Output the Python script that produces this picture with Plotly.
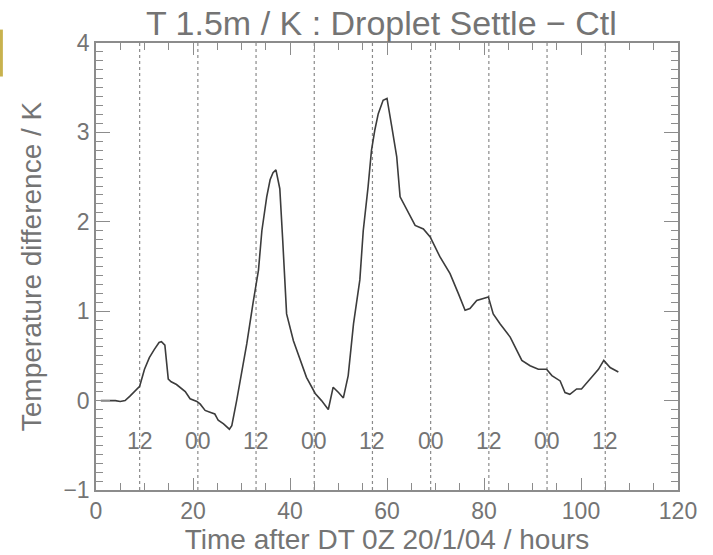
import plotly.graph_objects as go

# ---- data ----
hours = [1, 2, 3, 4, 5, 6, 7, 8, 9, 10, 11, 12, 13, 13.5, 14.2, 14.9, 15.5, 16.6, 17.5, 18.4,
         19.4, 20.8, 21.5, 22.5, 23.5, 24.5, 25.2, 26.3, 27.5, 28.0, 29.0, 30.0, 31.1, 32.4,
         33.5, 34.2, 35.2, 35.9, 36.5, 37.1, 37.9, 38.5, 39.0, 39.3, 40.7, 42.1, 43.4, 45.2,
         46.5, 47.9, 48.9, 50.0, 51.0, 52.0, 53.1, 54.4, 55.1, 56.1, 56.8, 57.5, 58.2, 59.2,
         60.0, 61.0, 62.0, 62.7, 64.1, 65.8, 67.5, 68.9, 70.9, 73.0, 74.7, 76.1, 77.1, 78.5,
         80.9, 81.9, 83.3, 85.4, 87.8, 89.5, 91.2, 92.9, 94.0, 95.7, 96.7, 97.7, 99.1, 100.1,
         102.5, 103.6, 104.7, 106.0, 107.7]
temp_diff = [0.0, 0.0, 0.0, 0.0, -0.01, 0.0, 0.05, 0.10, 0.16, 0.35, 0.48, 0.57, 0.65, 0.66,
             0.62, 0.24, 0.21, 0.18, 0.14, 0.10, 0.02, -0.01, -0.04, -0.11, -0.13, -0.15,
             -0.22, -0.26, -0.32, -0.28, 0.0, 0.30, 0.64, 1.10, 1.46, 1.90, 2.28, 2.47, 2.55,
             2.58, 2.37, 1.79, 1.30, 0.97, 0.67, 0.45, 0.26, 0.08, 0.0, -0.10, 0.15, 0.09,
             0.03, 0.28, 0.86, 1.35, 1.90, 2.39, 2.80, 3.03, 3.21, 3.36, 3.38, 3.06, 2.73,
             2.28, 2.13, 1.96, 1.92, 1.83, 1.61, 1.42, 1.20, 1.01, 1.03, 1.12, 1.16, 0.97,
             0.86, 0.71, 0.45, 0.39, 0.35, 0.35, 0.28, 0.22, 0.09, 0.07, 0.13, 0.13, 0.28,
             0.35, 0.45, 0.37, 0.32]

marker_hours = [9, 21, 33, 45, 57, 69, 81, 93, 105]
marker_labels = ["12", "00", "12", "00", "12", "00", "12", "00", "12"]
marker_label_y = -0.45

x_range = [0, 120]
y_range = [-1, 4]
x_major, x_minor = 20, 5
y_major, y_minor = 1, 0.1

title_text = "T 1.5m / K : Droplet Settle \u2212 Ctl"
x_title = "Time after DT 0Z 20/1/04 / hours"
y_title = "Temperature difference / K"

# ---- style ----
FONT = "Liberation Sans"
TXT = "#747474"
AX = "#8c8c8c"
LINE = "#3c3c3c"

fig = go.Figure()

# dotted 12-hourly markers
dx, dy = [], []
for h in marker_hours:
    dx += [h, h, None]
    dy += [y_range[0], y_range[1], None]
fig.add_trace(go.Scatter(x=dx, y=dy, mode="lines",
                         line=dict(color="#8a8a8a", width=1.2, dash="dot"),
                         hoverinfo="skip", showlegend=False))

fig.add_trace(go.Scatter(x=hours, y=temp_diff, mode="lines",
                         line=dict(color=LINE, width=1.6), showlegend=False))

for h, t in zip(marker_hours, marker_labels):
    fig.add_annotation(x=h, y=marker_label_y, text=t, showarrow=False,
                       font=dict(family=FONT, size=23, color=TXT),
                       xanchor="center", yanchor="middle")

# title
fig.add_annotation(x=0.49, y=1.0, xref="paper", yref="paper", yshift=20,
                   text=title_text, showarrow=False,
                   font=dict(family=FONT, size=34, color=TXT),
                   xanchor="center", yanchor="middle")

# gold edge bar
fig.add_shape(type="rect", xref="paper", yref="paper",
              x0=-0.165, x1=-0.160, y0=0.925, y1=1.03,
              fillcolor="#c8b24e", line=dict(width=0), layer="above")

# secondary (top / right) axes only to carry mirrored ticks
fig.add_trace(go.Scatter(x=[x_range[0]], y=[y_range[0]], xaxis="x2", yaxis="y2",
                         mode="markers", marker=dict(opacity=0), hoverinfo="skip",
                         showlegend=False))

tick_common = dict(ticks="inside", tickcolor=AX, tickwidth=1.3, showgrid=False,
                   zeroline=False)
x_minor_cfg = dict(tickmode="linear", tick0=0, dtick=x_minor, ticks="inside",
                   ticklen=7, tickcolor=AX, tickwidth=1.3, showgrid=False)
y_minor_cfg = dict(tickmode="linear", tick0=0, dtick=y_minor, ticks="inside",
                   ticklen=7, tickcolor=AX, tickwidth=1.3, showgrid=False)

fig.update_layout(
    xaxis=dict(range=x_range, tickmode="linear", tick0=0, dtick=x_major, ticklen=12,
               minor=x_minor_cfg,
               showline=True, linecolor=AX, linewidth=1.5, mirror=True,
               tickfont=dict(family=FONT, size=23, color=TXT),
               title=dict(text=x_title, font=dict(family=FONT, size=28, color=TXT), standoff=8),
               **tick_common),
    yaxis=dict(range=y_range, tickmode="linear", tick0=0, dtick=y_major, ticklen=14,
               minor=y_minor_cfg,
               showline=True, linecolor=AX, linewidth=1.5, mirror=True,
               tickfont=dict(family=FONT, size=23, color=TXT),
               title=dict(text=y_title, font=dict(family=FONT, size=28, color=TXT), standoff=14),
               **tick_common),
    xaxis2=dict(range=x_range, overlaying="x", side="top", tickmode="linear", tick0=0,
                dtick=x_major, ticklen=12, showticklabels=False, minor=x_minor_cfg,
                **tick_common),
    yaxis2=dict(range=y_range, overlaying="y", side="right", tickmode="linear", tick0=0,
                dtick=y_major, ticklen=14, showticklabels=False, minor=y_minor_cfg,
                **tick_common),
    width=713, height=555,
    margin=dict(l=96, r=35, t=43, b=65, autoexpand=False),
    paper_bgcolor="white", plot_bgcolor="white",
    showlegend=False)

fig.write_html("out.html")
